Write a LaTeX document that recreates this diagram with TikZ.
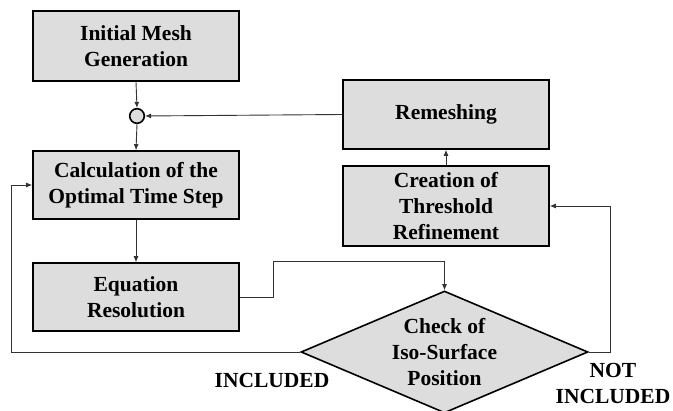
\documentclass[tikz,border=0pt]{standalone}
\usepackage{fontspec}
\setmainfont{Liberation Serif}
\usetikzlibrary{arrows.meta,shapes.geometric,calc}
\definecolor{boxgray}{HTML}{DDDDDD}
\definecolor{linegray}{HTML}{333333}
\begin{document}
\begin{tikzpicture}[x=1pt,y=-1pt,
  box/.style={draw=black, line width=1.6pt, fill=boxgray, minimum width=206pt, align=center, inner sep=0pt, font=\bfseries\fontsize{21.5}{26}\selectfont},
  lbl/.style={align=center, inner sep=0pt, font=\bfseries\fontsize{21.5}{26}\selectfont},
  conn/.style={line width=0.9pt, draw=linegray, -{Latex[length=6pt,width=5pt]}}]
\useasboundingbox (0,0) rectangle (673,411);
\node[box, minimum height=70pt] (init) at (136,46) {Initial Mesh\\Generation};
\node[circle, draw=black, line width=1.6pt, fill=boxgray, minimum size=14.6pt, inner sep=0pt] (join) at (137,116) {};
\node[box, minimum height=68pt] (calc) at (136,185) {Calculation of the\\Optimal Time Step};
\node[box, minimum height=68pt] (eq) at (136,297) {Equation\\Resolution};
\node[box, minimum height=69pt] (rem) at (446,114.5) {Remeshing};
\node[box, minimum height=80pt] (cre) at (446,206) {Creation of\\Threshold\\Refinement};
\node[diamond, draw=black, line width=1.6pt, fill=boxgray, minimum width=287pt, minimum height=122pt, inner sep=0pt] (chk) at (444.5,352) {};
\node[lbl] (chktxt) at (chk.center) {Check of\\Iso-Surface\\Position};
\node[lbl] (inc) at (272,380) {INCLUDED};
\node[lbl] (notinc) at (613,383) {NOT\\INCLUDED};
\draw[conn] (init.south) -- (join.north);
\draw[conn] (join.south) -- (calc.north);
\draw[conn] (rem.west) -- (join.east);
\draw[conn] (calc.south) -- (eq.north);
\draw[conn] (eq.east) -- ++(34,0) |- ($(chk.north)+(0,-29)$) -- (chk.north);
\draw[conn] (chk.west) -- ++(-289,0) |- (calc.west);
\draw[conn] (chk.east) -- ++(22,0) |- (cre.east);
\draw[conn] (cre.north) -- (rem.south);
\end{tikzpicture}
\end{document}
